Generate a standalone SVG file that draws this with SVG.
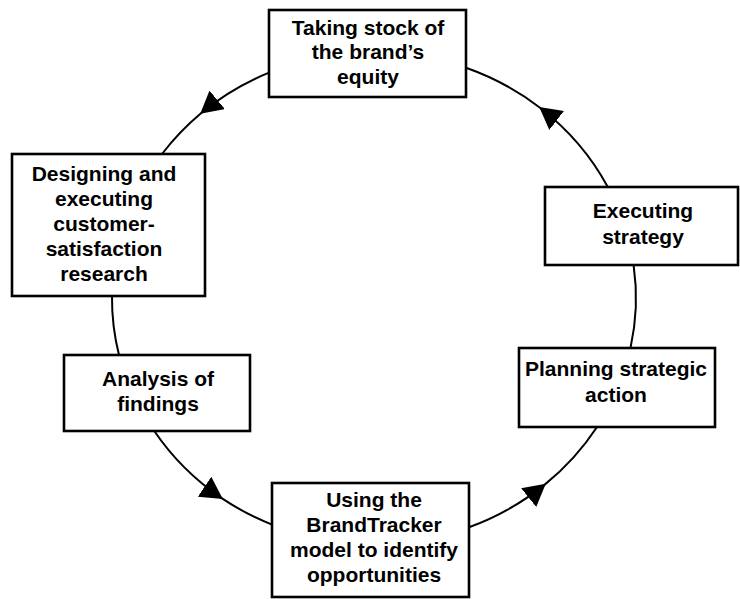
<svg xmlns="http://www.w3.org/2000/svg" width="740" height="599" viewBox="0 0 740 599">
<style>
.box{fill:#fff;stroke:#000;stroke-width:2.6}
.lbl{font-family:"Liberation Sans",Arial,Helvetica,sans-serif;font-weight:bold;font-size:21px;fill:#000;text-anchor:middle}
.conn{fill:none;stroke:#000;stroke-width:2}
</style>
<defs>
<marker id="ah" markerUnits="userSpaceOnUse" markerWidth="22" markerHeight="24" viewBox="0 0 22 24" refX="21" refY="12" orient="auto">
<path d="M0,0 L22,12 L0,24 Z" fill="#000"/>
</marker>
</defs>
<rect width="740" height="599" fill="#fff"/>
<g id="connectors">
<path class="conn" marker-mid="url(#ah)" d="M269,72.6 A262,246 0 0 0 201,113.2 A262,246 0 0 0 162,154"/>
<path class="conn" d="M112,296 A262,246 0 0 0 119,355"/>
<path class="conn" marker-mid="url(#ah)" d="M154.3,431 A262,246 0 0 0 222,498.4 A262,246 0 0 0 272,524.6"/>
<path class="conn" marker-mid="url(#ah)" d="M469,527.3 A262,246 0 0 0 545,484.4 A262,246 0 0 0 597,427"/>
<path class="conn" d="M630.5,348 A262,246 0 0 0 633.6,265"/>
<path class="conn" marker-mid="url(#ah)" d="M607.8,187 A262,246 0 0 0 540,107.7 A262,246 0 0 0 466,67.7"/>
</g>
<g id="taking-stock">
<rect class="box" x="269" y="10" width="197" height="87"/>
<text class="lbl" x="368" y="34.5">Taking stock of</text>
<text class="lbl" x="368" y="59">the brand’s</text>
<text class="lbl" x="368" y="83.5">equity</text>
</g>
<g id="designing">
<rect class="box" x="12" y="154" width="193" height="142"/>
<text class="lbl" x="104" y="181">Designing and</text>
<text class="lbl" x="104" y="206">executing</text>
<text class="lbl" x="104" y="231">customer-</text>
<text class="lbl" x="104" y="256">satisfaction</text>
<text class="lbl" x="104" y="281">research</text>
</g>
<g id="analysis">
<rect class="box" x="64" y="355" width="186" height="76"/>
<text class="lbl" x="158" y="386">Analysis of</text>
<text class="lbl" x="158" y="411">findings</text>
</g>
<g id="using">
<rect class="box" x="272" y="483" width="197" height="114"/>
<text class="lbl" x="374" y="507">Using the</text>
<text class="lbl" x="374" y="532">BrandTracker</text>
<text class="lbl" x="374" y="557">model to identify</text>
<text class="lbl" x="374" y="582">opportunities</text>
</g>
<g id="planning">
<rect class="box" x="519" y="348" width="196" height="79"/>
<text class="lbl" x="616" y="376">Planning strategic</text>
<text class="lbl" x="616" y="402">action</text>
</g>
<g id="executing">
<rect class="box" x="545" y="187" width="193" height="78"/>
<text class="lbl" x="643" y="218">Executing</text>
<text class="lbl" x="643" y="244">strategy</text>
</g>
</svg>
